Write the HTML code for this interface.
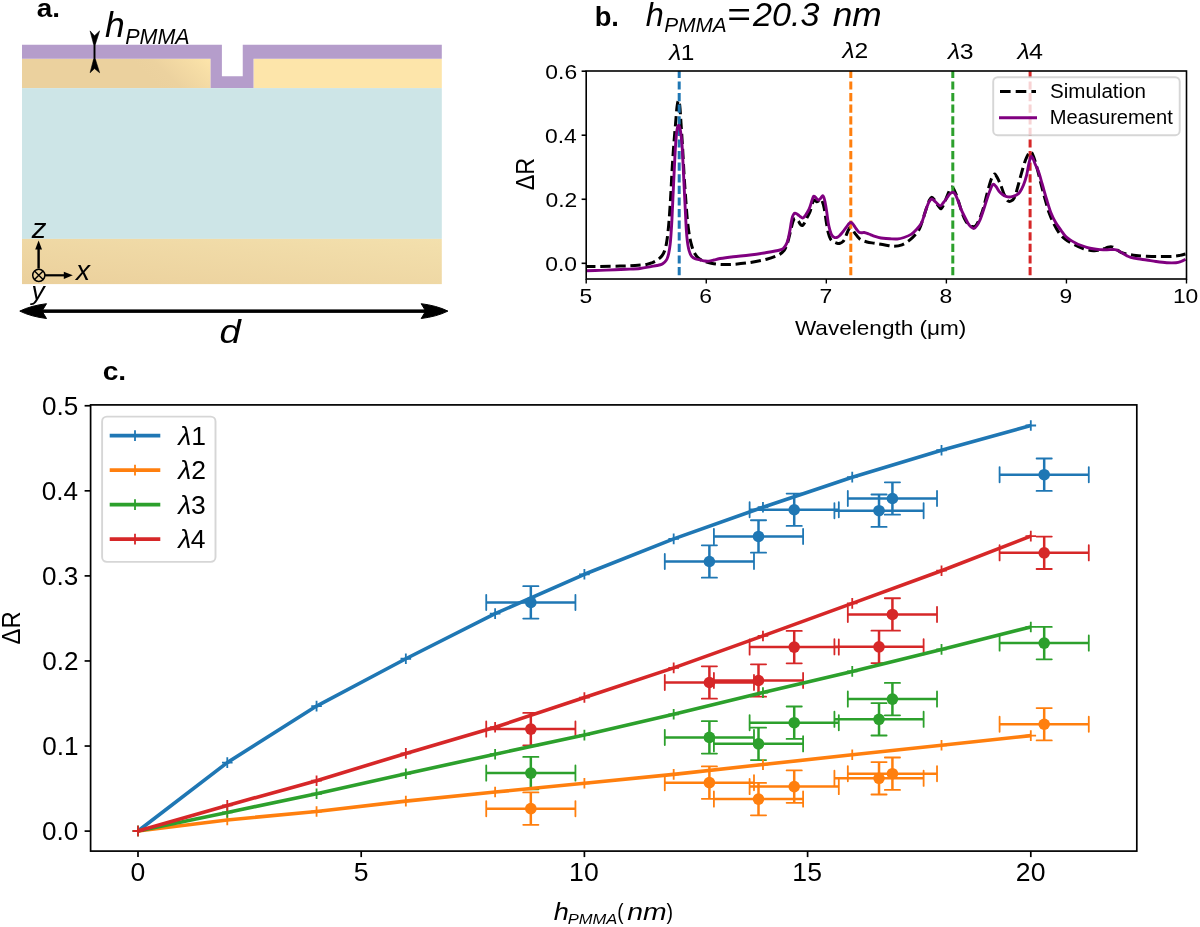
<!DOCTYPE html>
<html><head><meta charset="utf-8"><style>
html,body{margin:0;padding:0;background:#fff;overflow:hidden;}
svg{display:block;will-change:transform;}
text{font-family:"Liberation Sans",sans-serif;fill:#000;}
</style></head><body>
<svg width="1200" height="927" viewBox="0 0 1200 927">
<rect width="1200" height="927" fill="#fff"/>
<defs>
<linearGradient id="gl" gradientUnits="userSpaceOnUse" x1="168" y1="95" x2="212" y2="50">
 <stop offset="0" stop-color="#ebd19e"/><stop offset="0.22" stop-color="#ecd29f"/><stop offset="0.6" stop-color="#f5dca5"/><stop offset="0.9" stop-color="#fde5aa"/>
</linearGradient>
<linearGradient id="gb" x1="0" y1="1" x2="1" y2="0">
 <stop offset="0" stop-color="#ebd09c"/><stop offset="1" stop-color="#f3e0ad"/>
</linearGradient>
</defs>
<rect x="22" y="58.75" width="188.6" height="29.35" fill="url(#gl)"/>
<rect x="253.5" y="58.75" width="188.3" height="29.35" fill="#fde5aa"/>
<rect x="22" y="88.1" width="419.8" height="150.8" fill="#cde5e7"/>
<rect x="22" y="238.9" width="419.8" height="45.2" fill="url(#gb)"/>
<path d="M22,44.75 H221.9 V76.25 H242.75 V44.75 H441.8 V58.75 H253.5 V88.1 H210.6 V58.75 H22 Z" fill="#b59dcb"/>
<rect x="93.55" y="38" width="1.9" height="28" fill="#000"/>
<path d="M90.1,30.9 L94.5,35.8 L99.6,30.9 L95.6,43.5 L94.5,45.2 L93.4,43.5 Z" fill="#000" stroke="#000" stroke-width="0.6" stroke-linejoin="round"/>
<path d="M90.1,72.7 L94.5,68.6 L99.6,72.7 L95.6,60 L94.5,58.3 L93.4,60 Z" fill="#000" stroke="#000" stroke-width="0.6" stroke-linejoin="round"/>
<rect x="37.4" y="248" width="2.4" height="20.6" fill="#000"/>
<path d="M38.6,240.6 L42,249.6 L35.2,249.6 Z" fill="#000"/>
<rect x="45" y="274.2" width="20" height="2.2" fill="#000"/>
<path d="M72.8,275.3 L63.8,271.7 L63.8,278.9 Z" fill="#000"/>
<circle cx="38.8" cy="275.3" r="6.1" fill="none" stroke="#000" stroke-width="1.5"/>
<path d="M34.5,271 L43.1,279.6 M43.1,271 L34.5,279.6" stroke="#000" stroke-width="1.4"/>
<rect x="40" y="309.4" width="388" height="3.5" fill="#000"/>
<path d="M19.8,311.1 Q31,305.6 46.5,303.7 L42,311.1 L46.5,318.5 Q31,316.6 19.8,311.1 Z" fill="#000" stroke="#000" stroke-width="1" stroke-linejoin="round"/>
<path d="M447.9,311.1 Q436.7,305.6 421.2,303.7 L425.7,311.1 L421.2,318.5 Q436.7,316.6 447.9,311.1 Z" fill="#000" stroke="#000" stroke-width="1" stroke-linejoin="round"/>
<path d="M586.2,266.5 C588.5,266.48 594.37,266.47 600,266.4 C605.63,266.33 614.17,266.25 620,266.1 C625.83,265.95 630.58,265.78 635,265.5 C639.42,265.22 643.67,264.85 646.5,264.4 C649.33,263.95 650.2,263.53 652,262.8 C653.8,262.07 655.67,261.13 657.3,260 C658.93,258.87 660.55,257.62 661.8,256 C663.05,254.38 663.93,252.97 664.8,250.3 C665.67,247.63 666.28,245.02 667,240 C667.72,234.98 668.47,227.87 669.1,220.2 C669.73,212.53 670.27,202.98 670.8,194 C671.33,185.02 671.77,174.97 672.3,166.3 C672.83,157.63 673.45,149.2 674,142 C674.55,134.8 675.1,128.93 675.6,123.1 C676.1,117.27 676.53,110.77 677,107 C677.47,103.23 677.93,100.67 678.4,100.5 C678.87,100.33 679.37,102.23 679.8,106 C680.23,109.77 680.53,116.1 681,123.1 C681.47,130.1 682.07,139.02 682.6,148 C683.13,156.98 683.67,168.33 684.2,177 C684.73,185.67 685.27,192.8 685.8,200 C686.33,207.2 686.78,214.2 687.4,220.2 C688.02,226.2 688.77,231.7 689.5,236 C690.23,240.3 690.97,243.17 691.8,246 C692.63,248.83 693.43,251.02 694.5,253 C695.57,254.98 696.62,256.53 698.2,257.9 C699.78,259.27 701.83,260.3 704,261.2 C706.17,262.1 708.53,262.77 711.2,263.3 C713.87,263.83 716.32,264.23 720,264.4 C723.68,264.57 728.3,264.62 733.3,264.3 C738.3,263.98 744.43,263.35 750,262.5 C755.57,261.65 761.98,260.45 766.7,259.2 C771.42,257.95 775.42,256.45 778.3,255 C781.18,253.55 782.47,252.5 784,250.5 C785.53,248.5 786.37,246.42 787.5,243 C788.63,239.58 789.92,233.5 790.8,230 C791.68,226.5 792.18,223.9 792.8,222 C793.42,220.1 793.88,219.13 794.5,218.6 C795.12,218.07 795.83,218.37 796.5,218.8 C797.17,219.23 797.83,220.25 798.5,221.2 C799.17,222.15 799.83,223.78 800.5,224.5 C801.17,225.22 801.83,225.75 802.5,225.5 C803.17,225.25 803.8,224.2 804.5,223 C805.2,221.8 805.78,220.18 806.7,218.3 C807.62,216.42 809.03,214.25 810,211.7 C810.97,209.15 811.8,204.95 812.5,203 C813.2,201.05 813.5,200.22 814.2,200 C814.9,199.78 815.98,201.53 816.7,201.7 C817.42,201.87 817.82,201.42 818.5,201 C819.18,200.58 820.13,199.03 820.8,199.2 C821.47,199.37 821.93,200.48 822.5,202 C823.07,203.52 823.57,204.97 824.2,208.3 C824.83,211.63 825.62,217.88 826.3,222 C826.98,226.12 827.6,230.17 828.3,233 C829,235.83 829.67,237.55 830.5,239 C831.33,240.45 832.22,241 833.3,241.7 C834.38,242.4 835.88,242.93 837,243.2 C838.12,243.47 839,243.58 840,243.3 C841,243.02 842.17,242.33 843,241.5 C843.83,240.67 844.25,239.88 845,238.3 C845.75,236.72 846.67,233.8 847.5,232 C848.33,230.2 849.25,228.08 850,227.5 C850.75,226.92 851.17,227.53 852,228.5 C852.83,229.47 853.67,231.52 855,233.3 C856.33,235.08 858,237.75 860,239.2 C862,240.65 864.5,241.32 867,242 C869.5,242.68 872,242.8 875,243.3 C878,243.8 881.87,244.52 885,245 C888.13,245.48 890.97,246.23 893.8,246.2 C896.63,246.17 899.42,245.77 902,244.8 C904.58,243.83 907.13,242.03 909.3,240.4 C911.47,238.77 913.27,237 915,235 C916.73,233 918.37,231.07 919.7,228.4 C921.03,225.73 921.85,222.45 923,219 C924.15,215.55 925.52,210.87 926.6,207.7 C927.68,204.53 928.63,201.73 929.5,200 C930.37,198.27 930.97,197.3 931.8,197.3 C932.63,197.3 933.63,198.85 934.5,200 C935.37,201.15 936.17,202.95 937,204.2 C937.83,205.45 938.78,206.78 939.5,207.5 C940.22,208.22 940.55,209.08 941.3,208.5 C942.05,207.92 943,206.15 944,204 C945,201.85 946.17,198.3 947.3,195.6 C948.43,192.9 949.85,189.07 950.8,187.8 C951.75,186.53 952.15,187 953,188 C953.85,189 954.9,191.3 955.9,193.8 C956.9,196.3 957.85,199.53 959,203 C960.15,206.47 961.63,211.52 962.8,214.6 C963.97,217.68 964.85,219.63 966,221.5 C967.15,223.37 968.57,224.95 969.7,225.8 C970.83,226.65 971.78,226.6 972.8,226.6 C973.82,226.6 974.68,227.07 975.8,225.8 C976.92,224.53 978.22,222.02 979.5,219 C980.78,215.98 982.25,211.87 983.5,207.7 C984.75,203.53 985.85,198.32 987,194 C988.15,189.68 989.48,184.72 990.4,181.8 C991.32,178.88 991.77,177.8 992.5,176.5 C993.23,175.2 993.97,173.75 994.8,174 C995.63,174.25 996.5,176.13 997.5,178 C998.5,179.87 999.72,182.53 1000.8,185.2 C1001.88,187.87 1002.85,191.4 1004,194 C1005.15,196.6 1006.53,199.63 1007.7,200.8 C1008.87,201.97 1009.85,201.58 1011,201 C1012.15,200.42 1013.43,199.8 1014.6,197.3 C1015.77,194.8 1016.85,190.03 1018,186 C1019.15,181.97 1020.25,177.43 1021.5,173.1 C1022.75,168.77 1024.2,163.45 1025.5,160 C1026.8,156.55 1028.3,153.7 1029.3,152.4 C1030.3,151.1 1030.78,151.48 1031.5,152.2 C1032.22,152.92 1032.77,154.4 1033.6,156.7 C1034.43,159 1035.35,161.82 1036.5,166 C1037.65,170.18 1039.17,176.63 1040.5,181.8 C1041.83,186.97 1043.07,191.83 1044.5,197 C1045.93,202.17 1047.52,208.3 1049.1,212.8 C1050.68,217.3 1052.27,220.55 1054,224 C1055.73,227.45 1057.67,231 1059.5,233.5 C1061.33,236 1062.7,237.25 1065,239 C1067.3,240.75 1070.3,242.42 1073.3,244 C1076.3,245.58 1079.67,247.38 1083,248.5 C1086.33,249.62 1090.63,250.42 1093.3,250.7 C1095.97,250.98 1097.22,250.53 1099,250.2 C1100.78,249.87 1102.5,249.2 1104,248.7 C1105.5,248.2 1106.67,247.5 1108,247.2 C1109.33,246.9 1110.92,246.77 1112,246.9 C1113.08,247.03 1113.62,247.48 1114.5,248 C1115.38,248.52 1116.22,249.28 1117.3,250 C1118.38,250.72 1119.43,251.63 1121,252.3 C1122.57,252.97 1124.2,253.47 1126.7,254 C1129.2,254.53 1132.67,255.12 1136,255.5 C1139.33,255.88 1142.7,256.12 1146.7,256.3 C1150.7,256.48 1155.57,256.6 1160,256.6 C1164.43,256.6 1169.97,256.5 1173.3,256.3 C1176.63,256.1 1177.97,255.78 1180,255.4 C1182.03,255.02 1184.58,254.23 1185.5,254" stroke="#000" stroke-width="3" fill="none" stroke-dasharray="10.3 4.7" stroke-dashoffset="0.9" stroke-linejoin="round"/>
<path d="M679.2,275.2 V71" stroke="#1f77b4" stroke-width="3" stroke-dasharray="8.2 3.4" fill="none"/>
<path d="M850.8,275.2 V71" stroke="#ff7f0e" stroke-width="3" stroke-dasharray="8.2 3.4" fill="none"/>
<path d="M952.8,275.2 V71" stroke="#2ca02c" stroke-width="3" stroke-dasharray="8.2 3.4" fill="none"/>
<path d="M1030.1,275.2 V71" stroke="#d62728" stroke-width="3" stroke-dasharray="8.2 3.4" fill="none"/>
<path d="M586.2,270.8 C588.5,270.73 595.2,270.57 600,270.4 C604.8,270.23 610.67,269.98 615,269.8 C619.33,269.62 621.83,269.52 626,269.3 C630.17,269.08 635.87,268.95 640,268.5 C644.13,268.05 647.97,267.1 650.8,266.6 C653.63,266.1 655.2,265.87 657,265.5 C658.8,265.13 660.35,264.93 661.6,264.4 C662.85,263.87 663.6,263.2 664.5,262.3 C665.4,261.4 666.28,260.55 667,259 C667.72,257.45 668.27,255.52 668.8,253 C669.33,250.48 669.82,247.23 670.2,243.9 C670.58,240.57 670.82,236.95 671.1,233 C671.38,229.05 671.65,224.87 671.9,220.2 C672.15,215.53 672.35,210.4 672.6,205 C672.85,199.6 673.08,194.47 673.4,187.8 C673.72,181.13 674.13,172.18 674.5,165 C674.87,157.82 675.18,150.53 675.6,144.7 C676.02,138.87 676.47,133.23 677,130 C677.53,126.77 678.22,125.13 678.8,125.3 C679.38,125.47 679.97,127.77 680.5,131 C681.03,134.23 681.57,139.03 682,144.7 C682.43,150.37 682.73,157.82 683.1,165 C683.47,172.18 683.83,180.3 684.2,187.8 C684.57,195.3 684.93,202.8 685.3,210 C685.67,217.2 686.05,225.75 686.4,231 C686.75,236.25 687.05,238.63 687.4,241.5 C687.75,244.37 688.07,246.23 688.5,248.2 C688.93,250.17 689.45,251.92 690,253.3 C690.55,254.68 690.97,255.6 691.8,256.5 C692.63,257.4 693.57,258.12 695,258.7 C696.43,259.28 698.73,259.62 700.4,260 C702.07,260.38 703.57,260.82 705,261 C706.43,261.18 707.5,261.27 709,261.1 C710.5,260.93 712.17,260.43 714,260 C715.83,259.57 716.78,259.05 720,258.5 C723.22,257.95 728.3,257.28 733.3,256.7 C738.3,256.12 744.43,255.7 750,255 C755.57,254.3 761.7,253.33 766.7,252.5 C771.7,251.67 777.17,250.75 780,250 C782.83,249.25 782.58,249.12 783.7,248 C784.82,246.88 785.9,245.05 786.7,243.3 C787.5,241.55 787.95,239.72 788.5,237.5 C789.05,235.28 789.53,232.58 790,230 C790.47,227.42 790.88,224.22 791.3,222 C791.72,219.78 792.08,218.03 792.5,216.7 C792.92,215.37 793.38,214.57 793.8,214 C794.22,213.43 794.53,213.33 795,213.3 C795.47,213.27 796.05,213.52 796.6,213.8 C797.15,214.08 797.65,214.5 798.3,215 C798.95,215.5 799.8,216.3 800.5,216.8 C801.2,217.3 801.82,218.05 802.5,218 C803.18,217.95 803.9,217.28 804.6,216.5 C805.3,215.72 806.07,214.3 806.7,213.3 C807.33,212.3 807.85,211.6 808.4,210.5 C808.95,209.4 809.43,208.28 810,206.7 C810.57,205.12 811.25,202.67 811.8,201 C812.35,199.33 812.85,197.47 813.3,196.7 C813.75,195.93 814.08,196.27 814.5,196.4 C814.92,196.53 815.35,197.02 815.8,197.5 C816.25,197.98 816.72,198.88 817.2,199.3 C817.68,199.72 818.15,200.13 818.7,200 C819.25,199.87 819.87,199.2 820.5,198.5 C821.13,197.8 821.95,196.02 822.5,195.8 C823.05,195.58 823.38,196.22 823.8,197.2 C824.22,198.18 824.53,199.4 825,201.7 C825.47,204 826.05,207.4 826.6,211 C827.15,214.6 827.73,220.05 828.3,223.3 C828.87,226.55 829.43,228.55 830,230.5 C830.57,232.45 831.03,233.87 831.7,235 C832.37,236.13 833.17,236.88 834,237.3 C834.83,237.72 835.83,237.72 836.7,237.5 C837.57,237.28 838.37,236.7 839.2,236 C840.03,235.3 840.87,234.3 841.7,233.3 C842.53,232.3 843.37,231.1 844.2,230 C845.03,228.9 845.93,227.73 846.7,226.7 C847.47,225.67 848.12,224.5 848.8,223.8 C849.48,223.1 850.18,222.55 850.8,222.5 C851.42,222.45 851.93,222.95 852.5,223.5 C853.07,224.05 853.5,224.8 854.2,225.8 C854.9,226.8 855.87,228.42 856.7,229.5 C857.53,230.58 858.37,231.75 859.2,232.3 C860.03,232.85 860.87,232.77 861.7,232.8 C862.53,232.83 863.02,232.3 864.2,232.5 C865.38,232.7 867.28,233.45 868.8,234 C870.32,234.55 871.72,235.25 873.3,235.8 C874.88,236.35 876.63,236.88 878.3,237.3 C879.97,237.72 881.35,238.05 883.3,238.3 C885.25,238.55 887.67,238.68 890,238.8 C892.33,238.92 894.97,239.22 897.3,239 C899.63,238.78 901.7,238.27 904,237.5 C906.3,236.73 909.02,235.73 911.1,234.4 C913.18,233.07 914.78,231.37 916.5,229.5 C918.22,227.63 920.15,225.45 921.4,223.2 C922.65,220.95 923.13,218.58 924,216 C924.87,213.42 925.73,210.12 926.6,207.7 C927.47,205.28 928.33,202.95 929.2,201.5 C930.07,200.05 930.93,199.12 931.8,199 C932.67,198.88 933.53,200.08 934.4,200.8 C935.27,201.52 936,202.45 937,203.3 C938,204.15 939.32,206.03 940.4,205.9 C941.48,205.77 942.35,203.93 943.5,202.5 C944.65,201.07 946.22,198.75 947.3,197.3 C948.38,195.85 949.13,194.67 950,193.8 C950.87,192.93 951.8,192.23 952.5,192.1 C953.2,191.97 953.63,192.42 954.2,193 C954.77,193.58 955.18,194.1 955.9,195.6 C956.62,197.1 957.63,199.7 958.5,202 C959.37,204.3 960.1,206.98 961.1,209.4 C962.1,211.82 963.35,214.2 964.5,216.5 C965.65,218.8 966.92,221.45 968,223.2 C969.08,224.95 970,226.13 971,227 C972,227.87 973,228.65 974,228.4 C975,228.15 975.98,226.95 977,225.5 C978.02,224.05 979.02,222.28 980.1,219.7 C981.18,217.12 982.35,213.45 983.5,210 C984.65,206.55 985.92,202.25 987,199 C988.08,195.75 989,192.93 990,190.5 C991,188.07 992,185.07 993,184.4 C994,183.73 994.98,185.35 996,186.5 C997.02,187.65 998.02,189.97 999.1,191.3 C1000.18,192.63 1001.35,193.65 1002.5,194.5 C1003.65,195.35 1004.83,195.98 1006,196.4 C1007.17,196.82 1008.35,197 1009.5,197 C1010.65,197 1011.73,196.73 1012.9,196.4 C1014.07,196.07 1015.35,195.72 1016.5,195 C1017.65,194.28 1018.63,193.77 1019.8,192.1 C1020.97,190.43 1022.35,187.87 1023.5,185 C1024.65,182.13 1025.78,178.57 1026.7,174.9 C1027.62,171.23 1028.28,166.03 1029,163 C1029.72,159.97 1030.33,157.43 1031,156.7 C1031.67,155.97 1032.28,157.3 1033,158.6 C1033.72,159.9 1034.38,162.35 1035.3,164.5 C1036.22,166.65 1037.35,168.25 1038.5,171.5 C1039.65,174.75 1040.87,179.42 1042.2,184 C1043.53,188.58 1045.07,194.25 1046.5,199 C1047.93,203.75 1049.3,208.62 1050.8,212.5 C1052.3,216.38 1053.77,219.28 1055.5,222.3 C1057.23,225.32 1059.53,228.27 1061.2,230.6 C1062.87,232.93 1064.07,234.8 1065.5,236.3 C1066.93,237.8 1068.05,238.45 1069.8,239.6 C1071.55,240.75 1074.3,242.3 1076,243.2 C1077.7,244.1 1078.22,244.32 1080,245 C1081.78,245.68 1084.53,246.67 1086.7,247.3 C1088.87,247.93 1090.78,248.42 1093,248.8 C1095.22,249.18 1097.67,249.43 1100,249.6 C1102.33,249.77 1104.55,249.8 1107,249.8 C1109.45,249.8 1112.78,249.43 1114.7,249.6 C1116.62,249.77 1117.17,250.18 1118.5,250.8 C1119.83,251.42 1121.33,252.5 1122.7,253.3 C1124.07,254.1 1125.37,254.93 1126.7,255.6 C1128.03,256.27 1128.82,256.77 1130.7,257.3 C1132.58,257.83 1135.33,258.35 1138,258.8 C1140.67,259.25 1143.7,259.55 1146.7,260 C1149.7,260.45 1152.67,261.05 1156,261.5 C1159.33,261.95 1163.37,262.5 1166.7,262.7 C1170.03,262.9 1173.62,262.9 1176,262.7 C1178.38,262.5 1179.42,262.07 1181,261.5 C1182.58,260.93 1184.75,259.67 1185.5,259.3" stroke="#800080" stroke-width="2.9" fill="none" stroke-linejoin="round"/>
<rect x="586.2" y="71" width="600.3" height="208" fill="none" stroke="#000" stroke-width="1.6"/>
<path d="M586.2,279 v4.5" stroke="#000" stroke-width="1.4"/>
<path d="M706.26,279 v4.5" stroke="#000" stroke-width="1.4"/>
<path d="M826.32,279 v4.5" stroke="#000" stroke-width="1.4"/>
<path d="M946.38,279 v4.5" stroke="#000" stroke-width="1.4"/>
<path d="M1066.44,279 v4.5" stroke="#000" stroke-width="1.4"/>
<path d="M1186.5,279 v4.5" stroke="#000" stroke-width="1.4"/>
<path d="M586.2,263.3 h-4.6" stroke="#000" stroke-width="1.6"/>
<path d="M586.2,199.26 h-4.6" stroke="#000" stroke-width="1.6"/>
<path d="M586.2,135.22 h-4.6" stroke="#000" stroke-width="1.6"/>
<path d="M586.2,71.18 h-4.6" stroke="#000" stroke-width="1.6"/>
<rect x="993.2" y="77.2" width="186.5" height="58" rx="4.5" fill="#fff" fill-opacity="0.8" stroke="#cccccc" stroke-opacity="0.8" stroke-width="1.9"/>
<path d="M1000,91.4 H1036" stroke="#000" stroke-width="3" stroke-dasharray="10.6 5.1"/>
<path d="M999,117.8 H1037" stroke="#800080" stroke-width="3"/>
<path d="M486.23,602.42H575.43M530.83,586.22V618.62M664.79,561.49H753.99M709.39,545.29V577.69M713.9,536.43H803.1M758.5,520.23V552.63M749.61,509.74H838.81M794.21,493.54V525.94M834.42,510.68H923.62M879.02,494.48V526.88M847.82,498.49H937.02M892.42,482.29V514.69M999.59,474.7H1088.79M1044.19,458.5V490.9" stroke="#1f77b4" stroke-width="2.5" fill="none"/>
<path d="M486.23,594.82V610.02 M575.43,594.82V610.02M523.23,586.22H538.43 M523.23,618.62H538.43M664.79,553.89V569.09 M753.99,553.89V569.09M701.79,545.29H716.99 M701.79,577.69H716.99M713.9,528.83V544.03 M803.1,528.83V544.03M750.9,520.23H766.1 M750.9,552.63H766.1M749.61,502.14V517.34 M838.81,502.14V517.34M786.61,493.54H801.81 M786.61,525.94H801.81M834.42,503.08V518.28 M923.62,503.08V518.28M871.42,494.48H886.62 M871.42,526.88H886.62M847.82,490.89V506.09 M937.02,490.89V506.09M884.82,482.29H900.02 M884.82,514.69H900.02M999.59,467.1V482.3 M1088.79,467.1V482.3M1036.59,458.5H1051.79 M1036.59,490.9H1051.79" stroke="#1f77b4" stroke-width="1.8" stroke-linecap="round" fill="none"/>
<circle cx="530.83" cy="602.42" r="5.8" fill="#1f77b4"/>
<circle cx="709.39" cy="561.49" r="5.8" fill="#1f77b4"/>
<circle cx="758.5" cy="536.43" r="5.8" fill="#1f77b4"/>
<circle cx="794.21" cy="509.74" r="5.8" fill="#1f77b4"/>
<circle cx="879.02" cy="510.68" r="5.8" fill="#1f77b4"/>
<circle cx="892.42" cy="498.49" r="5.8" fill="#1f77b4"/>
<circle cx="1044.19" cy="474.7" r="5.8" fill="#1f77b4"/>
<path d="M486.23,808.66H575.43M530.83,792.46V824.86M664.79,782.66H753.99M709.39,766.46V798.86M713.9,799.11H803.1M758.5,782.91V815.31M749.61,786.58H838.81M794.21,770.38V802.78M834.42,778.31H923.62M879.02,762.11V794.51M847.82,773.71H937.02M892.42,757.51V789.91M999.59,724.25H1088.79M1044.19,708.05V740.45" stroke="#ff7f0e" stroke-width="2.5" fill="none"/>
<path d="M486.23,801.06V816.26 M575.43,801.06V816.26M523.23,792.46H538.43 M523.23,824.86H538.43M664.79,775.06V790.26 M753.99,775.06V790.26M701.79,766.46H716.99 M701.79,798.86H716.99M713.9,791.51V806.71 M803.1,791.51V806.71M750.9,782.91H766.1 M750.9,815.31H766.1M749.61,778.98V794.18 M838.81,778.98V794.18M786.61,770.38H801.81 M786.61,802.78H801.81M834.42,770.71V785.91 M923.62,770.71V785.91M871.42,762.11H886.62 M871.42,794.51H886.62M847.82,766.11V781.31 M937.02,766.11V781.31M884.82,757.51H900.02 M884.82,789.91H900.02M999.59,716.65V731.85 M1088.79,716.65V731.85M1036.59,708.05H1051.79 M1036.59,740.45H1051.79" stroke="#ff7f0e" stroke-width="1.8" stroke-linecap="round" fill="none"/>
<circle cx="530.83" cy="808.66" r="5.8" fill="#ff7f0e"/>
<circle cx="709.39" cy="782.66" r="5.8" fill="#ff7f0e"/>
<circle cx="758.5" cy="799.11" r="5.8" fill="#ff7f0e"/>
<circle cx="794.21" cy="786.58" r="5.8" fill="#ff7f0e"/>
<circle cx="879.02" cy="778.31" r="5.8" fill="#ff7f0e"/>
<circle cx="892.42" cy="773.71" r="5.8" fill="#ff7f0e"/>
<circle cx="1044.19" cy="724.25" r="5.8" fill="#ff7f0e"/>
<path d="M486.23,773.11H575.43M530.83,756.91V789.31M664.79,737.38H753.99M709.39,721.18V753.58M713.9,743.86H803.1M758.5,727.66V760.06M749.61,722.72H838.81M794.21,706.52V738.92M834.42,719.31H923.62M879.02,703.11V735.51M847.82,699.1H937.02M892.42,682.9V715.3M999.59,643.09H1088.79M1044.19,626.89V659.29" stroke="#2ca02c" stroke-width="2.5" fill="none"/>
<path d="M486.23,765.51V780.71 M575.43,765.51V780.71M523.23,756.91H538.43 M523.23,789.31H538.43M664.79,729.78V744.98 M753.99,729.78V744.98M701.79,721.18H716.99 M701.79,753.58H716.99M713.9,736.26V751.46 M803.1,736.26V751.46M750.9,727.66H766.1 M750.9,760.06H766.1M749.61,715.12V730.32 M838.81,715.12V730.32M786.61,706.52H801.81 M786.61,738.92H801.81M834.42,711.71V726.91 M923.62,711.71V726.91M871.42,703.11H886.62 M871.42,735.51H886.62M847.82,691.5V706.7 M937.02,691.5V706.7M884.82,682.9H900.02 M884.82,715.3H900.02M999.59,635.49V650.69 M1088.79,635.49V650.69M1036.59,626.89H1051.79 M1036.59,659.29H1051.79" stroke="#2ca02c" stroke-width="1.8" stroke-linecap="round" fill="none"/>
<circle cx="530.83" cy="773.11" r="5.8" fill="#2ca02c"/>
<circle cx="709.39" cy="737.38" r="5.8" fill="#2ca02c"/>
<circle cx="758.5" cy="743.86" r="5.8" fill="#2ca02c"/>
<circle cx="794.21" cy="722.72" r="5.8" fill="#2ca02c"/>
<circle cx="879.02" cy="719.31" r="5.8" fill="#2ca02c"/>
<circle cx="892.42" cy="699.1" r="5.8" fill="#2ca02c"/>
<circle cx="1044.19" cy="643.09" r="5.8" fill="#2ca02c"/>
<path d="M486.23,729.11H575.43M530.83,712.91V745.31M664.79,682.48H753.99M709.39,666.28V698.68M713.9,680.52H803.1M758.5,664.32V696.72M749.61,647.09H838.81M794.21,630.89V663.29M834.42,646.84H923.62M879.02,630.64V663.04M847.82,614.44H937.02M892.42,598.24V630.64M999.59,552.8H1088.79M1044.19,536.6V569" stroke="#d62728" stroke-width="2.5" fill="none"/>
<path d="M486.23,721.51V736.71 M575.43,721.51V736.71M523.23,712.91H538.43 M523.23,745.31H538.43M664.79,674.88V690.08 M753.99,674.88V690.08M701.79,666.28H716.99 M701.79,698.68H716.99M713.9,672.92V688.12 M803.1,672.92V688.12M750.9,664.32H766.1 M750.9,696.72H766.1M749.61,639.49V654.69 M838.81,639.49V654.69M786.61,630.89H801.81 M786.61,663.29H801.81M834.42,639.24V654.44 M923.62,639.24V654.44M871.42,630.64H886.62 M871.42,663.04H886.62M847.82,606.84V622.04 M937.02,606.84V622.04M884.82,598.24H900.02 M884.82,630.64H900.02M999.59,545.2V560.4 M1088.79,545.2V560.4M1036.59,536.6H1051.79 M1036.59,569H1051.79" stroke="#d62728" stroke-width="1.8" stroke-linecap="round" fill="none"/>
<circle cx="530.83" cy="729.11" r="5.8" fill="#d62728"/>
<circle cx="709.39" cy="682.48" r="5.8" fill="#d62728"/>
<circle cx="758.5" cy="680.52" r="5.8" fill="#d62728"/>
<circle cx="794.21" cy="647.09" r="5.8" fill="#d62728"/>
<circle cx="879.02" cy="646.84" r="5.8" fill="#d62728"/>
<circle cx="892.42" cy="614.44" r="5.8" fill="#d62728"/>
<circle cx="1044.19" cy="552.8" r="5.8" fill="#d62728"/>
<path d="M138,831 L227.28,762.62 L316.56,706.09 L405.84,658.77 L495.12,613.67 L584.4,574.28 L673.68,538.9 L762.96,507.18 L852.24,477.17 L941.52,450.23 L1030.8,425.5" stroke="#1f77b4" stroke-width="3.6" fill="none" stroke-linejoin="round"/>
<path d="M138,825.7v10.6 M132.7,831h10.6M227.28,757.32v10.6 M221.98,762.62h10.6M316.56,700.79v10.6 M311.26,706.09h10.6M405.84,653.47v10.6 M400.54,658.77h10.6M495.12,608.37v10.6 M489.82,613.67h10.6M584.4,568.98v10.6 M579.1,574.28h10.6M673.68,533.6v10.6 M668.38,538.9h10.6M762.96,501.88v10.6 M757.66,507.18h10.6M852.24,471.87v10.6 M846.94,477.17h10.6M941.52,444.93v10.6 M936.22,450.23h10.6M1030.8,420.2v10.6 M1025.5,425.5h10.6" stroke="#1f77b4" stroke-width="1.8" fill="none"/>
<path d="M138,831 L227.28,819.92 L316.56,811.48 L405.84,801.16 L495.12,792.04 L584.4,783.25 L673.68,774.39 L762.96,764.58 L852.24,754.78 L941.52,745.23 L1030.8,735.59" stroke="#ff7f0e" stroke-width="3.6" fill="none" stroke-linejoin="round"/>
<path d="M138,825.7v10.6 M132.7,831h10.6M227.28,814.62v10.6 M221.98,819.92h10.6M316.56,806.18v10.6 M311.26,811.48h10.6M405.84,795.86v10.6 M400.54,801.16h10.6M495.12,786.74v10.6 M489.82,792.04h10.6M584.4,777.95v10.6 M579.1,783.25h10.6M673.68,769.09v10.6 M668.38,774.39h10.6M762.96,759.28v10.6 M757.66,764.58h10.6M852.24,749.48v10.6 M846.94,754.78h10.6M941.52,739.93v10.6 M936.22,745.23h10.6M1030.8,730.29v10.6 M1025.5,735.59h10.6" stroke="#ff7f0e" stroke-width="1.8" fill="none"/>
<path d="M138,831 L227.28,812.41 L316.56,793.74 L405.84,773.71 L495.12,754.18 L584.4,735.08 L673.68,714.28 L762.96,692.62 L852.24,671.39 L941.52,649.4 L1030.8,626.97" stroke="#2ca02c" stroke-width="3.6" fill="none" stroke-linejoin="round"/>
<path d="M138,825.7v10.6 M132.7,831h10.6M227.28,807.11v10.6 M221.98,812.41h10.6M316.56,788.44v10.6 M311.26,793.74h10.6M405.84,768.41v10.6 M400.54,773.71h10.6M495.12,748.88v10.6 M489.82,754.18h10.6M584.4,729.78v10.6 M579.1,735.08h10.6M673.68,708.98v10.6 M668.38,714.28h10.6M762.96,687.32v10.6 M757.66,692.62h10.6M852.24,666.09v10.6 M846.94,671.39h10.6M941.52,644.1v10.6 M936.22,649.4h10.6M1030.8,621.67v10.6 M1025.5,626.97h10.6" stroke="#2ca02c" stroke-width="1.8" fill="none"/>
<path d="M138,831 L227.28,805.42 L316.56,780.7 L405.84,753.41 L495.12,727.24 L584.4,697.57 L673.68,667.9 L762.96,635.93 L852.24,603.36 L941.52,570.7 L1030.8,536.17" stroke="#d62728" stroke-width="3.6" fill="none" stroke-linejoin="round"/>
<path d="M138,825.7v10.6 M132.7,831h10.6M227.28,800.12v10.6 M221.98,805.42h10.6M316.56,775.4v10.6 M311.26,780.7h10.6M405.84,748.11v10.6 M400.54,753.41h10.6M495.12,721.94v10.6 M489.82,727.24h10.6M584.4,692.27v10.6 M579.1,697.57h10.6M673.68,662.6v10.6 M668.38,667.9h10.6M762.96,630.63v10.6 M757.66,635.93h10.6M852.24,598.06v10.6 M846.94,603.36h10.6M941.52,565.4v10.6 M936.22,570.7h10.6M1030.8,530.87v10.6 M1025.5,536.17h10.6" stroke="#d62728" stroke-width="1.8" fill="none"/>
<rect x="90.6" y="404.9" width="1046.2" height="446.2" fill="none" stroke="#000" stroke-width="1.7"/>
<path d="M138,851.1 v6" stroke="#000" stroke-width="1.7"/>
<path d="M361.2,851.1 v6" stroke="#000" stroke-width="1.7"/>
<path d="M584.4,851.1 v6" stroke="#000" stroke-width="1.7"/>
<path d="M807.6,851.1 v6" stroke="#000" stroke-width="1.7"/>
<path d="M1030.8,851.1 v6" stroke="#000" stroke-width="1.7"/>
<path d="M90.6,831.1 h-6" stroke="#000" stroke-width="1.7"/>
<path d="M90.6,746.03 h-6" stroke="#000" stroke-width="1.7"/>
<path d="M90.6,660.96 h-6" stroke="#000" stroke-width="1.7"/>
<path d="M90.6,575.89 h-6" stroke="#000" stroke-width="1.7"/>
<path d="M90.6,490.82 h-6" stroke="#000" stroke-width="1.7"/>
<path d="M90.6,405.75 h-6" stroke="#000" stroke-width="1.7"/>
<rect x="102.1" y="416.6" width="113.4" height="145.3" rx="4.8" fill="#fff" fill-opacity="0.8" stroke="#cccccc" stroke-opacity="0.8" stroke-width="1.9"/>
<path d="M109.7,435.6 H160.3" stroke="#1f77b4" stroke-width="3.6"/>
<path d="M135,430.3 v10.6" stroke="#1f77b4" stroke-width="1.8"/>
<path d="M109.7,470.1 H160.3" stroke="#ff7f0e" stroke-width="3.6"/>
<path d="M135,464.8 v10.6" stroke="#ff7f0e" stroke-width="1.8"/>
<path d="M109.7,504.6 H160.3" stroke="#2ca02c" stroke-width="3.6"/>
<path d="M135,499.3 v10.6" stroke="#2ca02c" stroke-width="1.8"/>
<path d="M109.7,539.1 H160.3" stroke="#d62728" stroke-width="3.6"/>
<path d="M135,533.8 v10.6" stroke="#d62728" stroke-width="1.8"/>
<text x="36.68" y="17.25" font-size="25.1" font-weight="bold" textLength="23.23" lengthAdjust="spacingAndGlyphs">a.</text>
<text x="104.91" y="36.8" font-size="34.5" font-style="italic" textLength="19.72" lengthAdjust="spacingAndGlyphs">h</text>
<text x="125.14" y="43.5" font-size="22.24" font-style="italic" textLength="64.52" lengthAdjust="spacingAndGlyphs">PMMA</text>
<text x="31.67" y="237.5" font-size="27.45" font-style="italic" textLength="14.73" lengthAdjust="spacingAndGlyphs">z</text>
<text x="75.93" y="279.8" font-size="28.01" font-style="italic" textLength="14.05" lengthAdjust="spacingAndGlyphs">x</text>
<text x="31.49" y="299.83" font-size="26.36" font-style="italic" textLength="13.18" lengthAdjust="spacingAndGlyphs">y</text>
<text x="219.51" y="343.36" font-size="33.34" font-style="italic" textLength="21.28" lengthAdjust="spacingAndGlyphs">d</text>
<text x="594.7" y="25.53" font-size="28.05" font-weight="bold" textLength="24.28" lengthAdjust="spacingAndGlyphs">b.</text>
<text x="645.76" y="26.3" font-size="32.71" font-style="italic" textLength="18.03" lengthAdjust="spacingAndGlyphs">h</text>
<text x="664.26" y="32.3" font-size="20.64" font-style="italic" textLength="62.46" lengthAdjust="spacingAndGlyphs">PMMA</text>
<text x="727.21" y="26.3" font-size="32.5" textLength="23.8" lengthAdjust="spacingAndGlyphs">=</text>
<text x="753.1" y="26.18" font-size="32.49" font-style="italic" textLength="66.4" lengthAdjust="spacingAndGlyphs">20.3</text>
<text x="832.71" y="26.3" font-size="33.11" font-style="italic" textLength="49.02" lengthAdjust="spacingAndGlyphs">nm</text>
<text x="669.36" y="60" font-size="22.22" font-style="italic" textLength="12.03" lengthAdjust="spacingAndGlyphs">λ</text>
<text x="680.7" y="60" font-size="22.22" textLength="13.59" lengthAdjust="spacingAndGlyphs">1</text>
<text x="842.62" y="57.5" font-size="22.43" font-style="italic" textLength="12.14" lengthAdjust="spacingAndGlyphs">λ</text>
<text x="854.52" y="57.5" font-size="22.43" textLength="13.72" lengthAdjust="spacingAndGlyphs">2</text>
<text x="948.02" y="59.3" font-size="22.5" font-style="italic" textLength="12.18" lengthAdjust="spacingAndGlyphs">λ</text>
<text x="959.83" y="59.3" font-size="22.5" textLength="13.76" lengthAdjust="spacingAndGlyphs">3</text>
<text x="1017.64" y="58.6" font-size="22.77" font-style="italic" textLength="12.33" lengthAdjust="spacingAndGlyphs">λ</text>
<text x="1029" y="58.6" font-size="22.77" textLength="13.93" lengthAdjust="spacingAndGlyphs">4</text>
<text x="545.23" y="270.79" font-size="20.6" textLength="31.76" lengthAdjust="spacingAndGlyphs">0.0</text>
<text x="545.49" y="206.75" font-size="20.6" textLength="31.76" lengthAdjust="spacingAndGlyphs">0.2</text>
<text x="545.01" y="142.71" font-size="20.6" textLength="31.76" lengthAdjust="spacingAndGlyphs">0.4</text>
<text x="545.35" y="78.67" font-size="20.6" textLength="31.76" lengthAdjust="spacingAndGlyphs">0.6</text>
<text x="579.41" y="303.1" font-size="20.6" textLength="12.72" lengthAdjust="spacingAndGlyphs">5</text>
<text x="699.37" y="303.1" font-size="20.6" textLength="12.72" lengthAdjust="spacingAndGlyphs">6</text>
<text x="819.5" y="303.1" font-size="20.6" textLength="12.72" lengthAdjust="spacingAndGlyphs">7</text>
<text x="939.57" y="303.1" font-size="20.6" textLength="12.72" lengthAdjust="spacingAndGlyphs">8</text>
<text x="1059.64" y="303.1" font-size="20.6" textLength="12.72" lengthAdjust="spacingAndGlyphs">9</text>
<text x="1172.91" y="303.1" font-size="20.6" textLength="25.43" lengthAdjust="spacingAndGlyphs">10</text>
<text x="794.9" y="334.7" font-size="20.2" textLength="171.49" lengthAdjust="spacingAndGlyphs">Wavelength (μm)</text>
<text transform="translate(534,190.3) rotate(-90)" x="0" y="0" font-size="25.15" textLength="32.48" lengthAdjust="spacingAndGlyphs">ΔR</text>
<text x="1049.97" y="98.4" font-size="19.6" textLength="96.07" lengthAdjust="spacingAndGlyphs">Simulation</text>
<text x="1049.85" y="124.2" font-size="19.3" textLength="122.9" lengthAdjust="spacingAndGlyphs">Measurement</text>
<text x="102.65" y="380.25" font-size="26.01" font-weight="bold" textLength="23.55" lengthAdjust="spacingAndGlyphs">c.</text>
<text x="41.93" y="840.09" font-size="25.1" textLength="36.29" lengthAdjust="spacingAndGlyphs">0.0</text>
<text x="42.19" y="755.02" font-size="25.1" textLength="36.29" lengthAdjust="spacingAndGlyphs">0.1</text>
<text x="42.22" y="669.95" font-size="25.1" textLength="36.29" lengthAdjust="spacingAndGlyphs">0.2</text>
<text x="42.06" y="584.88" font-size="25.1" textLength="36.29" lengthAdjust="spacingAndGlyphs">0.3</text>
<text x="41.68" y="499.81" font-size="25.1" textLength="36.29" lengthAdjust="spacingAndGlyphs">0.4</text>
<text x="42.01" y="414.74" font-size="25.1" textLength="36.29" lengthAdjust="spacingAndGlyphs">0.5</text>
<text x="130.6" y="880.95" font-size="25.1" textLength="14.8" lengthAdjust="spacingAndGlyphs">0</text>
<text x="353.83" y="880.95" font-size="25.1" textLength="14.8" lengthAdjust="spacingAndGlyphs">5</text>
<text x="569.11" y="880.95" font-size="25.1" textLength="29.59" lengthAdjust="spacingAndGlyphs">10</text>
<text x="792.35" y="880.95" font-size="25.1" textLength="29.59" lengthAdjust="spacingAndGlyphs">15</text>
<text x="1015.85" y="880.95" font-size="25.1" textLength="29.59" lengthAdjust="spacingAndGlyphs">20</text>
<text transform="translate(20,644.46) rotate(-90)" x="0" y="0" font-size="25.44" textLength="33.06" lengthAdjust="spacingAndGlyphs">ΔR</text>
<text x="553.65" y="920.4" font-size="24.43" font-style="italic" textLength="15.1" lengthAdjust="spacingAndGlyphs">h</text>
<text x="567.69" y="923.9" font-size="15.41" font-style="italic" textLength="49.6" lengthAdjust="spacingAndGlyphs">PMMA</text>
<text x="617.33" y="918.8" font-size="21.25" textLength="6.28" lengthAdjust="spacingAndGlyphs">(</text>
<text x="627.23" y="920.4" font-size="24.4" font-style="italic" textLength="39.39" lengthAdjust="spacingAndGlyphs">nm</text>
<text x="666.39" y="918.8" font-size="21.25" textLength="6.53" lengthAdjust="spacingAndGlyphs">)</text>
<text x="178.2" y="444.5" font-size="24.98" font-style="italic" textLength="13.03" lengthAdjust="spacingAndGlyphs">λ</text>
<text x="191.17" y="444.5" font-size="24.98" textLength="14.73" lengthAdjust="spacingAndGlyphs">1</text>
<text x="178.2" y="479" font-size="24.98" font-style="italic" textLength="13.03" lengthAdjust="spacingAndGlyphs">λ</text>
<text x="191.21" y="479" font-size="24.98" textLength="14.73" lengthAdjust="spacingAndGlyphs">2</text>
<text x="178.2" y="513.5" font-size="24.98" font-style="italic" textLength="13.03" lengthAdjust="spacingAndGlyphs">λ</text>
<text x="191.04" y="513.5" font-size="24.98" textLength="14.73" lengthAdjust="spacingAndGlyphs">3</text>
<text x="178.2" y="548" font-size="24.98" font-style="italic" textLength="13.03" lengthAdjust="spacingAndGlyphs">λ</text>
<text x="190.65" y="548" font-size="24.98" textLength="14.73" lengthAdjust="spacingAndGlyphs">4</text>
</svg>
</body></html>
